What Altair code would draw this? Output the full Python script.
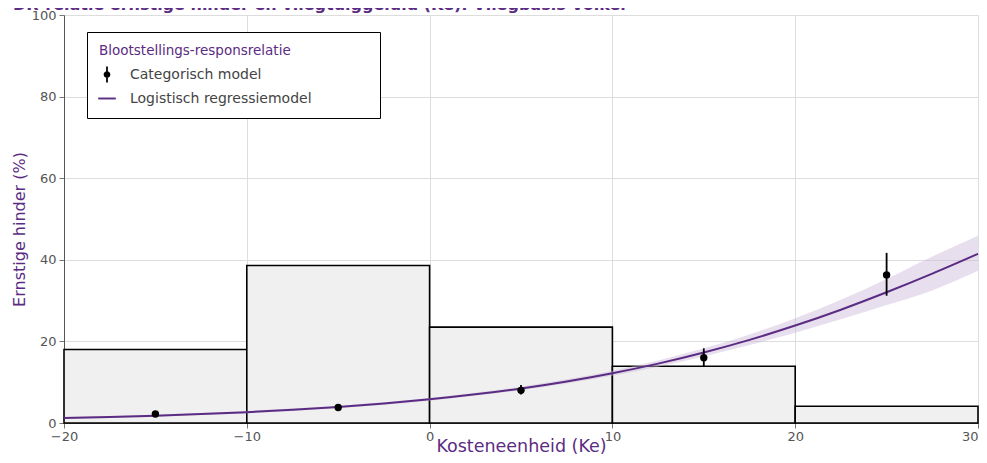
import altair as alt
import pandas as pd

PURPLE = "#5b2c83"
FONT = "DejaVu Sans"

# Histogram of exposure distribution (% of population per Ke class)
bin_start = [-20, -10, 0, 10, 20]
bin_end = [-10, 0, 10, 20, 30]
bin_pct = [18.0, 38.6, 23.5, 13.9, 4.1]

# Categorical model: points with confidence interval
cat_ke = [-15, -5, 5, 15, 25]
cat_pct = [2.2, 3.8, 8.0, 16.0, 36.3]
cat_lo = [1.8, 3.3, 7.0, 13.9, 31.2]
cat_hi = [2.7, 4.4, 9.3, 18.3, 41.7]

# Logistic regression model
curve_ke = [-20, -17.5, -15, -12.5, -10, -7.5, -5, -2.5, 0, 2.5, 5, 7.5,
            10, 12.5, 15, 17.5, 20, 22.5, 25, 27.5, 30]
curve_pct = [1.20, 1.46, 1.78, 2.18, 2.66, 3.24, 3.94, 4.78, 5.80, 7.02, 8.47, 10.18,
             12.20, 14.55, 17.28, 20.38, 23.88, 27.77, 32.04, 36.61, 41.46]
curve_lo = [1.00, 1.25, 1.55, 1.95, 2.40, 2.95, 3.65, 4.45, 5.45, 6.65, 8.05, 9.70,
            11.60, 13.80, 16.30, 19.10, 22.10, 25.40, 28.90, 32.50, 37.30]
curve_hi = [1.45, 1.70, 2.05, 2.45, 2.95, 3.55, 4.25, 5.10, 6.15, 7.40, 8.90, 10.70,
            12.80, 15.30, 18.30, 21.70, 25.70, 30.20, 35.30, 40.80, 45.90]

legend_names = ["Categorisch model", "Logistisch regressiemodel"]
legend_title = "Blootstellings-responsrelatie"

x_ticks = [-20, -10, 0, 10, 20, 30]
y_ticks = [0, 20, 40, 60, 80, 100]

bars_df = pd.DataFrame({"x0": bin_start, "x1": bin_end, "pct": bin_pct})
cat_df = pd.DataFrame({"ke": cat_ke, "pct": cat_pct, "lo": cat_lo, "hi": cat_hi})
curve_df = pd.DataFrame({"ke": curve_ke, "pct": curve_pct, "lo": curve_lo, "hi": curve_hi})
legend_df = pd.DataFrame({"model": legend_names})

xscale = alt.Scale(domain=[-20, 30], nice=False, zero=False)
yscale = alt.Scale(domain=[0, 100], nice=False)

xaxis = alt.Axis(values=x_ticks, title="Kosteneenheid (Ke)", labelFontSize=13,
                 labelColor="#555555", labelFont=FONT, titleFont=FONT, titleFontSize=17.5,
                 titleFontWeight="normal", titleColor=PURPLE, tickColor="#777777",
                 tickSize=5, domainColor="#555555", gridColor="#dddddd",
                 labelPadding=2, titleY=28, titleBaseline="alphabetic", labelFlush=False,
                 labelAlign={"condition": {"test": "datum.value == 30", "value": "right"},
                             "value": "center"})
yaxis = alt.Axis(values=y_ticks, title="Ernstige hinder (%)", labelFontSize=13,
                 labelColor="#555555", labelFont=FONT, titleFont=FONT, titleFontSize=16,
                 titleFontWeight="normal", titleColor=PURPLE, tickColor="#777777",
                 tickSize=5, domainColor="#555555", gridColor="#dddddd",
                 labelPadding=3, titlePadding=4, titleY=214)

bars = alt.Chart(bars_df).mark_rect(fill="#f0f0f0", stroke="black", strokeWidth=1.6).encode(
    x=alt.X("x0:Q", scale=xscale, axis=xaxis),
    x2="x1:Q",
    y=alt.Y("pct:Q", scale=yscale, axis=yaxis),
    y2=alt.datum(0),
)

band = alt.Chart(curve_df).mark_area(color="#c9b8d9", opacity=0.45, interpolate="monotone").encode(
    x=alt.X("ke:Q", scale=xscale),
    y=alt.Y("lo:Q", scale=yscale),
    y2="hi:Q",
)

line = alt.Chart(curve_df).mark_line(color=PURPLE, strokeWidth=2, interpolate="monotone").encode(
    x=alt.X("ke:Q", scale=xscale),
    y=alt.Y("pct:Q", scale=yscale),
)

ebars = alt.Chart(cat_df).mark_rule(color="black", strokeWidth=1.8).encode(
    x=alt.X("ke:Q", scale=xscale),
    y=alt.Y("lo:Q", scale=yscale),
    y2="hi:Q",
)

dots = alt.Chart(cat_df).mark_point(filled=True, color="black", size=55, opacity=1).encode(
    x=alt.X("ke:Q", scale=xscale),
    y=alt.Y("pct:Q", scale=yscale),
)

errbar_shape = ("M-0.11,-1L0.11,-1L0.11,1L-0.11,1Z "
                "M0.42,0A0.42,0.42,0,1,1,-0.42,0A0.42,0.42,0,1,1,0.42,0Z")
line_shape = "M-1.1,-0.12L1.1,-0.12L1.1,0.12L-1.1,0.12Z"

padded_title = legend_title + "\u00a0" * 18 + "\u200b"

legend_layer = alt.Chart(legend_df).mark_point(filled=True, clip=True, opacity=1, size=256).encode(
    x=alt.datum(-1000, scale=xscale),
    y=alt.datum(-1000, scale=yscale),
    color=alt.Color("model:N", scale=alt.Scale(domain=legend_names, range=["black", PURPLE]),
                    legend=alt.Legend(
                        title=padded_title,
                        orient="none", legendX=23, legendY=17,
                        fillColor="white", strokeColor="black", padding=12,
                        titleFont=FONT, titleFontSize=13.5, titleFontWeight="normal",
                        titleColor=PURPLE, titlePadding=9, titleLimit=600,
                        labelFont=FONT, labelFontSize=14, labelColor="#444444",
                        labelLimit=600, labelOffset=15, rowPadding=8, symbolSize=256,
                        symbolStrokeWidth=0, cornerRadius=0)),
    shape=alt.Shape("model:N", scale=alt.Scale(domain=legend_names,
                                               range=[errbar_shape, line_shape]),
                    legend=alt.Legend(title=padded_title)),
)

chart = alt.layer(bars, band, line, ebars, dots, legend_layer).properties(
    width=914, height=408,
    autosize=alt.AutoSizeParams(type="none"),
    padding={"left": 56, "top": 7, "right": 1, "bottom": 32},
    title=alt.TitleParams(
        text="DR-relatie ernstige hinder en vliegtuiggeluid (Ke): Vliegbasis Volkel",
        anchor="start", frame="group", dx=-51, offset=-17, baseline="alphabetic",
        font=FONT, fontSize=16, fontWeight="bold", color=PURPLE),
).configure_view(stroke=None)

chart.save("out.html", embed_options={"renderer": "svg", "actions": False})
